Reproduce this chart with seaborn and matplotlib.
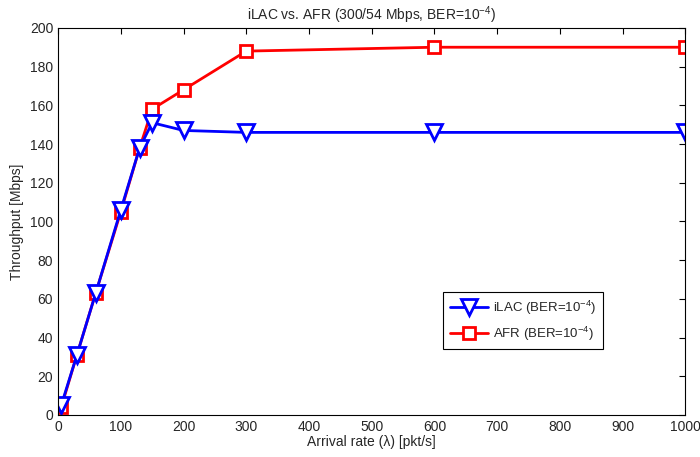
import pandas as pd
import seaborn as sns
import matplotlib.pyplot as plt

sns.set_style("white")
plt.rcParams['font.family'] = ['Liberation Sans', 'DejaVu Sans']
plt.rcParams['mathtext.default'] = 'regular'
plt.rcParams['mathtext.fontset'] = 'custom'
plt.rcParams['mathtext.rm'] = 'Liberation Sans'

# data
rate = [5, 30, 60, 100, 130, 150, 200, 300, 600, 1000]
ilac = [5, 31, 63, 106, 138, 151, 147, 146, 146, 146]
afr = [4, 31, 63, 105, 138, 158, 168, 188, 190, 190]

df = pd.DataFrame({'rate': rate, 'iLAC': ilac, 'AFR': afr})

fig = plt.figure(figsize=(7, 4.57), dpi=100)
ax = fig.add_axes([0.083, 0.092, 0.896, 0.847])

sns.lineplot(data=df, x='rate', y='AFR', ax=ax, color='red', lw=2,
             marker='s', markersize=9, markerfacecolor='white',
             markeredgecolor='red', markeredgewidth=2,
             label='AFR (BER=10$^{-4}$)')
sns.lineplot(data=df, x='rate', y='iLAC', ax=ax, color='blue', lw=2,
             marker='v', markersize=12, markerfacecolor='white',
             markeredgecolor='blue', markeredgewidth=2,
             label='iLAC (BER=10$^{-4}$)')

ax.set_xlim(0, 1000)
ax.set_ylim(0, 200)
ax.set_xticks(range(0, 1001, 100))
ax.set_yticks(range(0, 201, 20))
ax.tick_params(direction='in', top=True, right=True, length=4, labelsize=10,
               color='black')
for s in ax.spines.values():
    s.set_color('black')
    s.set_linewidth(0.8)

ax.set_xlabel('Arrival rate (λ) [pkt/s]', fontsize=10, labelpad=1)
ax.set_ylabel('Throughput [Mbps]', fontsize=10)
ax.set_title('iLAC vs. AFR (300/54 Mbps, BER=10$^{-4}$)', fontsize=10, pad=6)

h, l = ax.get_legend_handles_labels()
leg = ax.legend(h[::-1], l[::-1], loc='upper left', bbox_to_anchor=(0.614, 0.318),
                borderaxespad=0, fancybox=False, edgecolor='black', framealpha=1,
                handlelength=2.9, handletextpad=0.4, fontsize=9.5,
                borderpad=0.5, labelspacing=0.6)
leg.get_frame().set_linewidth(0.8)

fig.savefig('out.png', dpi=100)
